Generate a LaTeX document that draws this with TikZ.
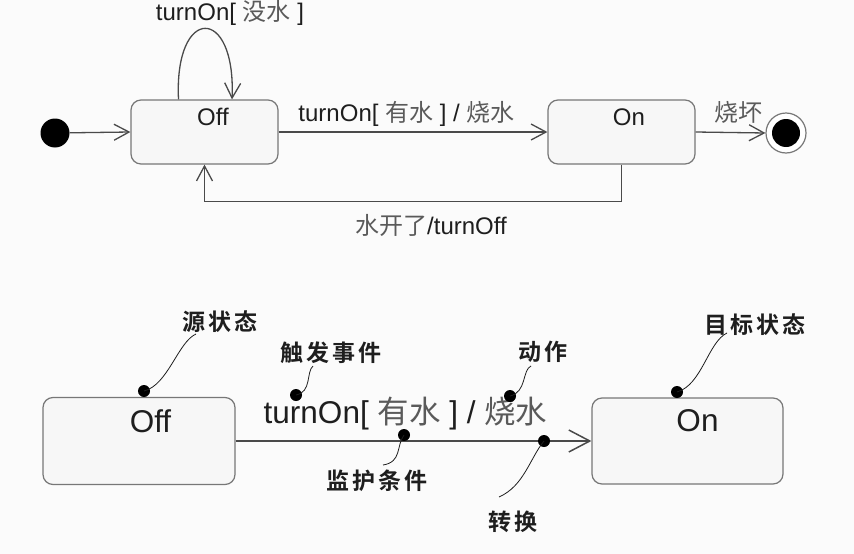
\documentclass[tikz,border=0pt]{standalone}
\usepackage{fontspec}
\setmainfont{Liberation Sans}
\newfontfamily\cjk{Noto Sans CJK SC}
\newfontfamily\cjkb{Noto Sans CJK SC Bold}[LetterSpace=14]
\usetikzlibrary{arrows.meta}
\definecolor{bgc}{HTML}{FBFBFB}
\definecolor{boxfill}{HTML}{F7F7F7}
\definecolor{boxdraw}{HTML}{777777}
\definecolor{linec}{HTML}{4A4A4A}
\definecolor{txtc}{HTML}{1E1E1E}
\definecolor{cjkc}{HTML}{5A5A5A}
\newcommand{\cz}[1]{{\cjk\color{cjkc}#1}}
\tikzset{
  statebox/.style={draw=boxdraw, fill=boxfill, line width=1.2pt, rounded corners=10pt, inner sep=0pt},
  smallarr/.style={draw=linec, line width=1.3pt, -{Straight Barb[length=15pt,width=16pt,line width=1.3pt]}},
  bigarr/.style={draw=linec, line width=1.5pt, -{Straight Barb[length=21pt,width=22pt,line width=1.5pt]}},
  toptext/.style={font=\fontsize{24}{27}\selectfont, text=txtc, inner sep=0pt},
  bigtext/.style={font=\fontsize{31.5}{34}\selectfont, text=txtc, inner sep=0pt},
  note/.style={font=\cjkb\fontsize{23}{26}\selectfont, text=txtc, inner sep=0pt},
  notedot/.style={circle, fill=black, minimum size=12pt, inner sep=0pt},
  noteline/.style={draw=txtc, line width=0.8pt}
}
\begin{document}
\begin{tikzpicture}[x=1pt,y=-1pt]
\fill[bgc] (0,0) rectangle (854,554);
\useasboundingbox (0,0) rectangle (854,554);

% ---------- top diagram ----------
\node[circle, fill=black, minimum size=29pt, inner sep=0pt] (init) at (55,133) {};
\node[statebox, minimum width=147pt, minimum height=64pt] (off) at (204.5,132) {};
\node[toptext] (offt) at (213,117) {Off};
\node[statebox, minimum width=147pt, minimum height=64pt] (on) at (621.5,132) {};
\node[toptext] (ont) at (629,117) {On};
\node[circle, draw=boxdraw, fill=white, line width=1.2pt, minimum size=40pt, inner sep=0pt] (fin) at (786,133) {};
\node[circle, fill=black, minimum size=28pt, inner sep=0pt] (finin) at (fin.center) {};

\draw[smallarr] (init) -- (off.west);
\draw[smallarr] ([xshift=-26pt]off.north) .. controls (174,5) and (236,5) .. ([xshift=27.5pt]off.north);
\node[toptext] (loopl) at (230,13) {turnOn[ \cz{没水} ]};
\draw[smallarr] (off.east) -- (on.west);
\node[toptext] (tl) at (406.5,114) {turnOn[ \cz{有水} ] / \cz{烧水}};
\draw[smallarr] (on.east) -- (fin.west);
\node[toptext] (brk) at (738,112) {\cz{烧坏}};
\draw[smallarr] (on.south) -- ++(0,37) -| (off.south);
\node[toptext] (boil) at (431,225) {\cz{水开了}/turnOff};

% ---------- bottom diagram ----------
\node[statebox, minimum width=192pt, minimum height=87pt] (off2) at (139,441) {};
\node[bigtext] (off2t) at (150.5,421) {Off};
\node[statebox, minimum width=191pt, minimum height=86pt] (on2) at (687.5,441) {};
\node[bigtext] (on2t) at (697.5,421) {On};
\draw[bigarr] (off2.east) -- (on2.west);
\node[bigtext] (tl2) at (405.5,414) {turnOn[ \cz{有水} ] / \cz{烧水}};

% annotations
\node[notedot] (d1) at (144,391) {};
\node[notedot] (d2) at (296,395) {};
\node[notedot] (d3) at (404,435) {};
\node[notedot] (d4) at (510,396) {};
\node[notedot] (d5) at (544,441) {};
\node[notedot] (d6) at (677,392) {};

\node[note] (n1) at (220,322) {源状态};
\node[note] (n2) at (331,353) {触发事件};
\node[note] (n3) at (377,481) {监护条件};
\node[note] (n4) at (543,352) {动作};
\node[note] (n5) at (513,522) {转换};
\node[note] (n6) at (755,325) {目标状态};

\coordinate (e1) at (196,334);
\coordinate (e2) at (313,366);
\coordinate (e3) at (383,465);
\coordinate (e4) at (531,366);
\coordinate (e5) at (499,497);
\coordinate (e6) at (727,333);

\draw[noteline] (d1.center) .. controls (168,385) and (178,342) .. (e1);
\draw[noteline] (d2.center) .. controls (312,392) and (306,372) .. (e2);
\draw[noteline] (d3.center) .. controls (396,446) and (402,462) .. (e3);
\draw[noteline] (d4.center) .. controls (527,392) and (522,370) .. (e4);
\draw[noteline] (d5.center) .. controls (530,458) and (524,486) .. (e5);
\draw[noteline] (d6.center) .. controls (702,385) and (708,342) .. (e6);
\end{tikzpicture}
\end{document}
